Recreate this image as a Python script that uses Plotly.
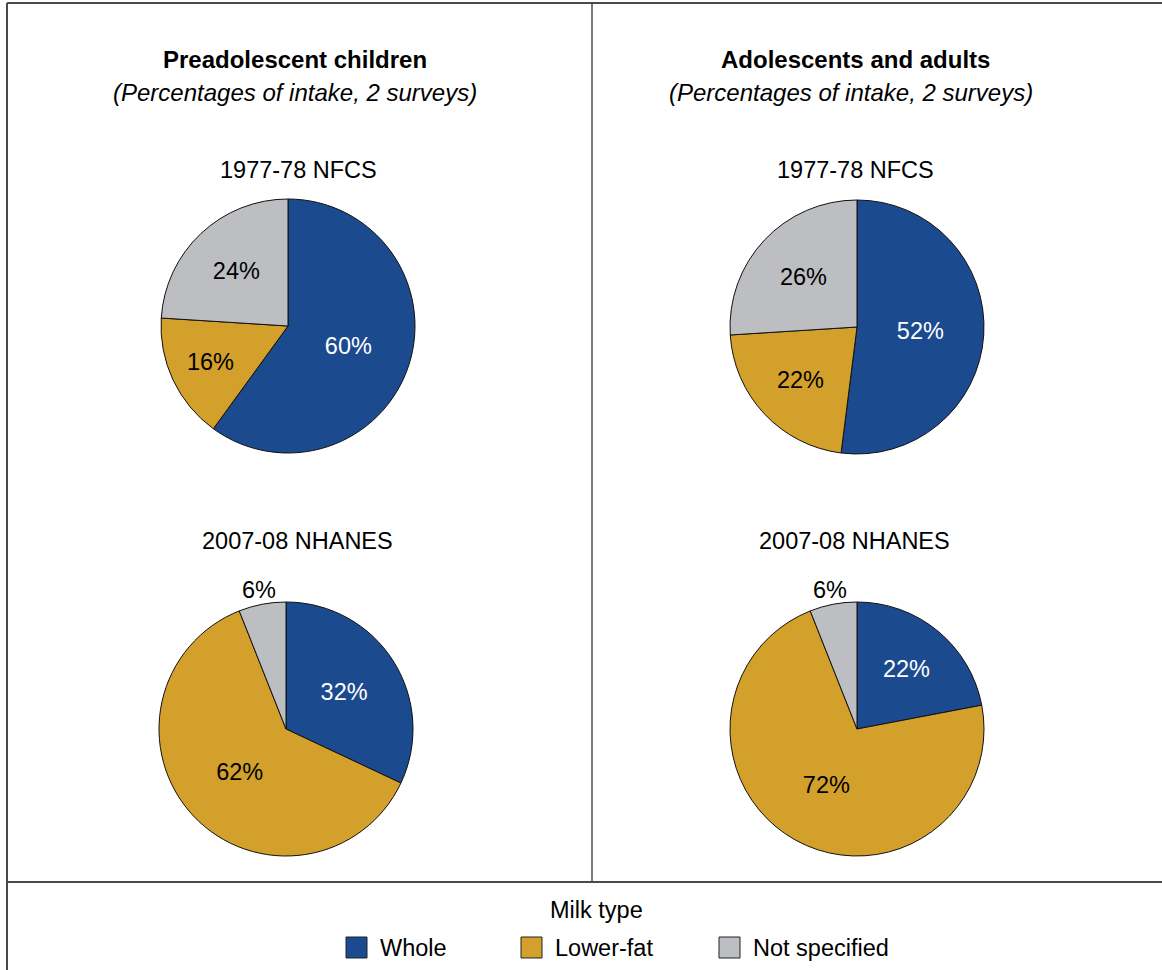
import math
import plotly.graph_objects as go

# ---- data -------------------------------------------------------------
milk_types = ["Whole", "Lower-fat", "Not specified"]
milk_colors = ["#1B4A8E", "#D3A02B", "#BDBEC2"]

groups = ["Preadolescent children", "Adolescents and adults"]
group_note = "(Percentages of intake, 2 surveys)"
surveys = ["1977-78 NFCS", "2007-08 NHANES"]

children_1977 = [60, 16, 24]
children_2007 = [32, 62, 6]
adults_1977 = [52, 22, 26]
adults_2007 = [22, 72, 6]

# ---- page geometry (pixels) ---------------------------------------------
W, H = 1162, 970
FONT = "Liberation Sans, Arial, Helvetica, sans-serif"
FS = 23.5
FS_HEAD = 24
SMALL_SLICE = 10      # slices below this share get their label outside
OUT_GAP = 15          # distance of outside labels beyond the rim


def px(x):
    return x / W


def py(y):
    return 1 - y / H


R = 127
pie_centers = {
    (0, 0): (288, 326),
    (0, 1): (286, 729),
    (1, 0): (857, 327),
    (1, 1): (857, 729),
}
values = {
    (0, 0): children_1977,
    (0, 1): children_2007,
    (1, 0): adults_1977,
    (1, 1): adults_2007,
}

fig = go.Figure()
annotations = []

for (g, s), vals in values.items():
    cx, cy = pie_centers[(g, s)]
    small = [v < SMALL_SLICE for v in vals]
    fig.add_trace(go.Pie(
        labels=milk_types,
        values=vals,
        sort=False,
        direction="clockwise",
        rotation=0,
        marker=dict(colors=milk_colors, line=dict(color="#111111", width=1)),
        text=["" if sm else f"{v}%" for v, sm in zip(vals, small)],
        textinfo="text",
        textposition="inside",
        insidetextorientation="horizontal",
        textfont=dict(family=FONT, size=FS,
                      color=["white", "black", "black"]),
        domain=dict(x=[px(cx - R), px(cx + R)], y=[py(cy + R), py(cy - R)]),
        showlegend=False,
        hoverinfo="label+percent",
    ))
    # small slices: value written just outside the rim, at the slice's mid-angle
    total = sum(vals)
    cum = 0
    for v, sm in zip(vals, small):
        mid = (cum + v / 2) / total * 2 * math.pi
        cum += v
        if sm:
            rr = R + OUT_GAP
            annotations.append(dict(
                x=px(cx + rr * math.sin(mid)),
                y=py(cy - rr * math.cos(mid)),
                text=f"{v}%",
            ))

# panel headings
heading_x = [295, 855]
note_x = [295, 851]
for g, name in enumerate(groups):
    annotations.append(dict(x=px(heading_x[g]), y=py(59), text=f"<b>{name}</b>",
                            size=FS_HEAD))
    annotations.append(dict(x=px(note_x[g]), y=py(92), text=f"<i>{group_note}</i>",
                            size=FS_HEAD))

# survey labels above each pie
survey_x = [[298, 297], [855, 854]]
survey_y = [170, 541]
for g in range(2):
    for s, sv in enumerate(surveys):
        annotations.append(dict(x=px(survey_x[g][s]), y=py(survey_y[s]), text=sv))

# legend
annotations.append(dict(x=px(596), y=py(910), text="Milk type"))
swatch_x = [346, 521, 719]
shapes = []
for i, (name, col) in enumerate(zip(milk_types, milk_colors)):
    x0 = swatch_x[i]
    shapes.append(dict(type="rect", xref="paper", yref="paper",
                       x0=px(x0), x1=px(x0 + 21), y0=py(958), y1=py(937),
                       fillcolor=col, line=dict(color="#222222", width=1)))
    annotations.append(dict(x=px(x0 + 32), y=py(948), text=name, xanchor="left"))

for a in annotations:
    a.setdefault("xanchor", "center")
    size = a.pop("size", FS)
    a.update(xref="paper", yref="paper", yanchor="middle", showarrow=False,
             font=dict(family=FONT, size=size, color="black"))

# frame lines
frame = [
    (7, 3, 7, H + 5, 2, "#4a4a4a"),
    (7, 3, W + 5, 3, 2, "#4a4a4a"),
    (592, 3, 592, 882, 1.3, "#333333"),
    (7, 882, W + 5, 882, 2, "#4a4a4a"),
]
for x0, y0, x1, y1, w, c in frame:
    shapes.append(dict(type="line", xref="paper", yref="paper",
                       x0=px(x0), y0=py(y0), x1=px(x1), y1=py(y1),
                       line=dict(color=c, width=w)))

fig.update_layout(
    width=W, height=H,
    margin=dict(l=0, r=0, t=0, b=0),
    paper_bgcolor="white",
    plot_bgcolor="white",
    annotations=annotations,
    shapes=shapes,
    font=dict(family=FONT, size=FS, color="black"),
)

fig.write_html("out.html")
